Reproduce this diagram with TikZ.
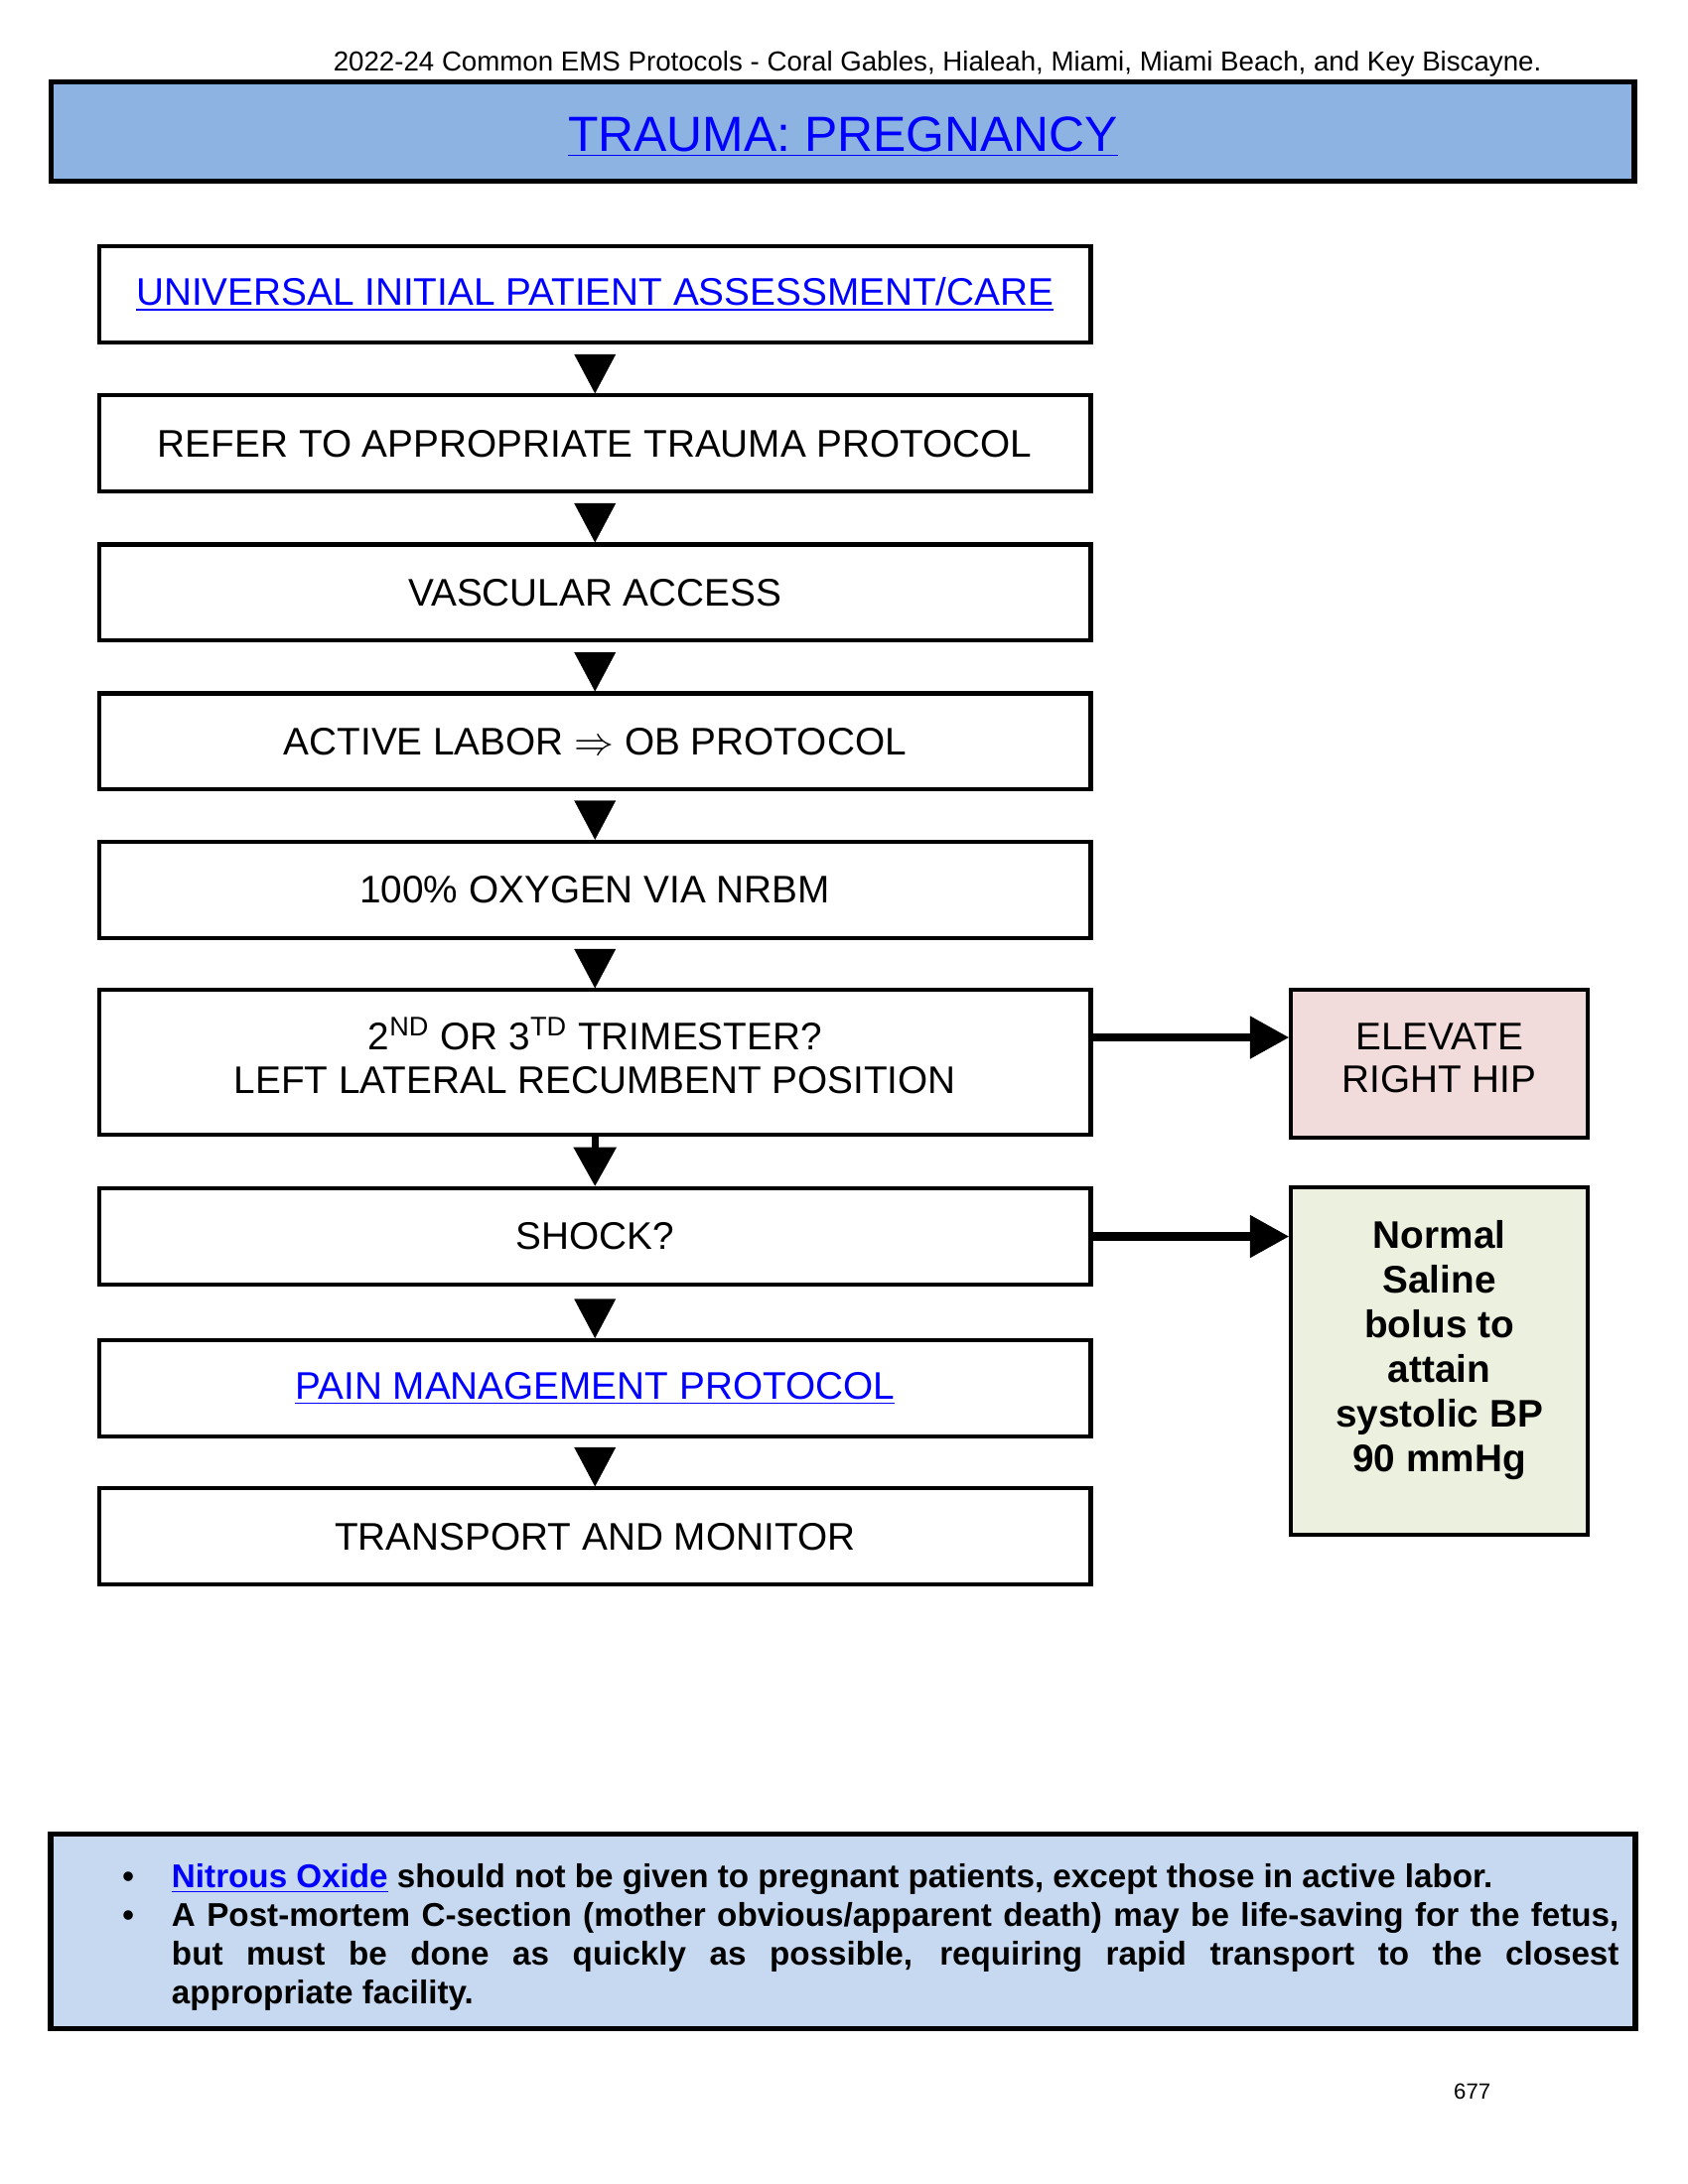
\documentclass[tikz,border=0pt]{standalone}
\usepackage{fontspec}
\setmainfont{Liberation Sans}
\usetikzlibrary{arrows.meta}
\definecolor{titleblue}{RGB}{141,179,226}
\definecolor{noteblue}{RGB}{198,217,241}
\definecolor{hippink}{RGB}{242,220,219}
\definecolor{salinegreen}{RGB}{235,241,222}
\definecolor{linkblue}{RGB}{0,0,255}
\newcommand{\lnk}[1]{\textcolor{linkblue}{\underline{#1}}}
\newcommand{\bul}[1]{\hangindent=0.63cm\hangafter=1\noindent\hbox to 0.63cm{\textbullet\hfil}#1\par}
\newcommand{\dstrut}[1]{\rule[-#1]{0pt}{#1}}
\begin{document}
\begin{tikzpicture}[
            stepbox/.style={draw, line width=1.5pt, minimum width=12.68cm, minimum height=1.23cm, align=center, inner sep=0pt, font=\fontsize{14}{15.7}\selectfont},
            sidebox/.style={draw, line width=1.5pt, minimum width=3.79cm, align=center, inner sep=0pt, font=\fontsize{14}{15.7}\selectfont},
            downarrow/.style={-{Triangle[width=0.53cm, length=0.5cm, black]}, draw=white, line width=0.1pt, shorten <=0.1cm},
            sidearrow/.style={-{Triangle[width=0.52cm, length=0.5cm]}, line width=3pt}
        ]
            \useasboundingbox (0, 0) rectangle (21.59, -27.94);

            \node[anchor=base east, font=\fontsize{10}{12}\selectfont] (header) at (19.84, -0.91) {2022-24 Common EMS Protocols - Coral Gables, Hialeah, Miami, Miami Beach, and Key Biscayne.};
            \node[draw, line width=2pt, fill=titleblue, minimum width=20.25cm, minimum height=1.27cm, font=\fontsize{18}{20}\selectfont] (title) at (10.78, -1.68) {\rule{0pt}{0.59cm}\lnk{TRAUMA: PREGNANCY}};

            \node[stepbox] (assess) at (7.61, -3.767) {\lnk{UNIVERSAL INITIAL PATIENT ASSESSMENT/CARE}};
            \node[stepbox] (refer) at (7.61, -5.674) {REFER TO APPROPRIATE TRAUMA PROTOCOL};
            \node[stepbox] (vasc) at (7.61, -7.580) {VASCULAR ACCESS};
            \node[stepbox] (labor) at (7.61, -9.486) {ACTIVE LABOR $\Rightarrow$ OB PROTOCOL};
            \node[stepbox] (oxy) at (7.61, -11.383) {100\% OXYGEN VIA NRBM};
            \node[stepbox, minimum height=1.85cm] (trim) at (7.61, -13.592) {2\textsuperscript{ND} OR 3\textsuperscript{TD} TRIMESTER?\\LEFT LATERAL RECUMBENT POSITION\dstrut{0.18cm}};
            \node[stepbox] (shock) at (7.61, -15.818) {SHOCK?};
            \node[stepbox] (pain) at (7.61, -17.760) {\lnk{PAIN MANAGEMENT PROTOCOL}};
            \node[stepbox] (transp) at (7.61, -19.657) {TRANSPORT AND MONITOR};

            \node[sidebox, fill=hippink, minimum height=1.89cm] (hip) at (18.41, -13.61) {ELEVATE\\RIGHT HIP\dstrut{0.15cm}};
            \node[sidebox, fill=salinegreen, minimum height=4.44cm, font=\fontsize{14}{16.2}\selectfont\bfseries] (saline) at (18.41, -17.41) {Normal\\Saline\\bolus to\\attain\\systolic BP\\90 mmHg\dstrut{0.38cm}};

            \draw[downarrow] (assess) -- (refer);
            \draw[downarrow] (refer) -- (vasc);
            \draw[downarrow] (vasc) -- (labor);
            \draw[downarrow] (labor) -- (oxy);
            \draw[downarrow] (oxy) -- (trim);
            \draw[downarrow, draw=black, line width=2.5pt, shorten <=0pt] (trim) -- (shock);
            \draw[downarrow] (shock) -- (pain);
            \draw[downarrow] (pain) -- (transp);

            \draw[sidearrow] ([yshift=3.2mm]trim.east) -- ([yshift=3.2mm]trim.east -| hip.west);
            \draw[sidearrow] (shock.east) -- (shock.east -| saline.west);

            \node[draw, line width=2pt, fill=noteblue, minimum width=20.27cm, minimum height=2.49cm] (notes) at (10.78, -24.71) {};
            \node[anchor=north west, text width=19.14cm, align=justify, inner sep=0pt, font=\fontsize{12}{14.2}\selectfont\bfseries] (notetext) at (1.56, -23.83) {\hyphenpenalty=10000 \exhyphenpenalty=10000 \bul{\lnk{Nitrous Oxide} should not be given to pregnant patients, except those in active labor.}\bul{A Post-mortem C-section (mother obvious/apparent death) may be life-saving for the fetus,\linebreak but must be done as quickly as possible, requiring rapid transport to the closest\linebreak appropriate facility.}};

            \node[font=\fontsize{8}{10}\selectfont, anchor=base] (pageno) at (18.83, -26.86) {677};
        \end{tikzpicture}
\end{document}
